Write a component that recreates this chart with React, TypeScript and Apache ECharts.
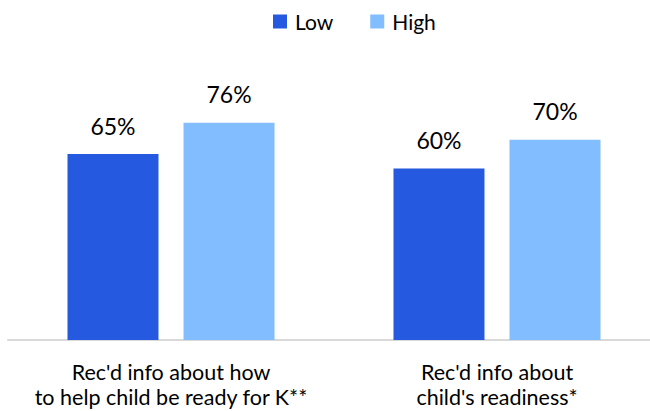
import React, { useEffect, useRef } from "react";
import * as echarts from "echarts";

const categories = ["Rec'd info about how\nto help child be ready for K**", "Rec'd info about\nchild's readiness*"];
const seriesNames = ["Low", "High"];
const lowValues = [65, 60];
const highValues = [76, 70];
const colors = ["#2459E0", "#82BDFF"];

export default function App() {
  const ref = useRef<HTMLDivElement>(null);
  useEffect(() => {
    if (!ref.current) return;
    const chart = echarts.init(ref.current, null, { renderer: "svg" });
    const font = "Lato, 'Noto Sans', sans-serif";
    const labelCfg = {
      show: true,
      position: "top" as const,
      distance: 17,
      formatter: "{c}%",
      fontFamily: font,
      fontSize: 23,
      color: "#000",
    };
    chart.setOption({
      animation: false,
      legend: {
        data: seriesNames,
        left: 268,
        top: 6,
        icon: "rect",
        itemWidth: 14,
        itemHeight: 14,
        itemGap: 37,
        textStyle: { fontFamily: font, fontSize: 21, color: "#000", padding: [0, 0, 0, 3] },
      },
      grid: { left: 8, right: 0, top: 54, bottom: 71, containLabel: false },
      xAxis: {
        type: "category",
        data: categories,
        axisLine: { show: true, lineStyle: { color: "#D9D9D9", width: 2 } },
        axisTick: { show: false },
        axisLabel: {
          interval: 0,
          margin: 19,
          fontFamily: font,
          fontSize: 21.5,
          lineHeight: 25,
          color: "#000",
        },
      },
      yAxis: { type: "value", min: 0, max: 100, show: false, splitLine: { show: false } },
      series: [
        {
          name: seriesNames[0],
          type: "bar",
          data: lowValues,
          barWidth: 91,
          barGap: "27.5%",
          itemStyle: { color: colors[0] },
          label: labelCfg,
        },
        {
          name: seriesNames[1],
          type: "bar",
          data: highValues,
          barWidth: 91,
          barGap: "27.5%",
          itemStyle: { color: colors[1] },
          label: labelCfg,
        },
      ],
    });
    return () => chart.dispose();
  }, []);
  return (
    <div style={{ width: 650, height: 411, position: "absolute", left: 0, top: 0, overflow: "hidden" }}>
      <div ref={ref} style={{ width: 660, height: 411 }} />
    </div>
  );
}
